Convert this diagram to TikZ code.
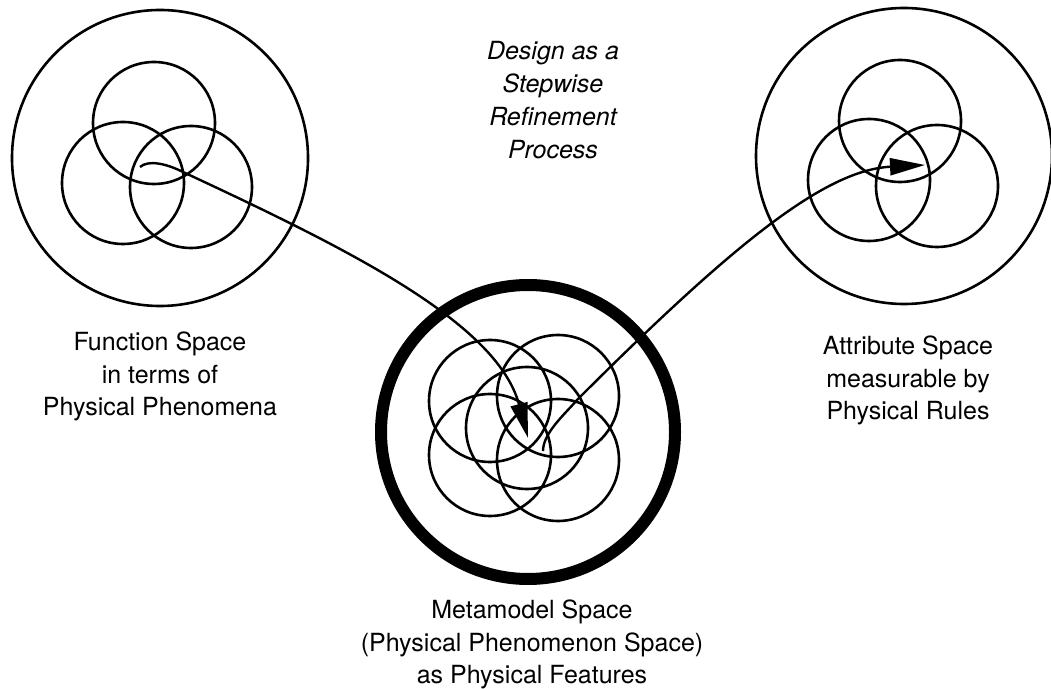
\documentclass[tikz,border=0pt]{standalone}
\usepackage{fontspec}
\setmainfont{TeX Gyre Heros}
\usetikzlibrary{arrows.meta,positioning}

\begin{document}
\begin{tikzpicture}[
  x=1pt,y=1pt,
  ring/.style={circle,draw,line width=2.6pt,inner sep=0pt,outer sep=0pt,minimum size=122pt},
  space/.style={circle,draw,line width=2.6pt,inner sep=0pt,outer sep=0pt,minimum size=296pt},
  lbl/.style={align=center,inner sep=0pt,font=\fontsize{25}{32.5}\selectfont},
  arr/.style={-{Triangle[length=35pt,width=17pt]},line width=2.4pt},
  node distance=27pt
]
\useasboundingbox (0,0) rectangle (1051,688);

% function space
\node[space] (fs) at (160,530) {};
\node[ring] (fs1) at (154,565) {};
\node[ring] (fs2) at (123,505) {};
\node[ring] (fs3) at (191,501) {};

% metamodel space
\node[space,line width=12pt,minimum size=294pt] (ms) at (528,256) {};
\node[ring] (ms1) at (490,287) {};
\node[ring] (ms2) at (558,292) {};
\node[ring] (ms3) at (527,260) {};
\node[ring] (ms4) at (490,233) {};
\node[ring] (ms5) at (558,228) {};

% attribute space
\node[space] (as) at (904,532) {};
\node[ring] (as1) at (900,567) {};
\node[ring] (as2) at (869,508) {};
\node[ring] (as3) at (937,502) {};

\node[lbl,below=26pt of fs] (fslbl) {Function Space\\in terms of\\Physical Phenomena};
\node[lbl,below=21pt of ms,xshift=4pt] (mslbl) {Metamodel Space\\(Physical Phenomenon Space)\\as Physical Features};
\node[lbl,below=32pt of as,xshift=4pt] (aslbl) {Attribute Space\\measurable by\\Physical Rules};
\node[lbl,font=\fontsize{25}{33}\selectfont\itshape,anchor=north] (design) at (553,647) {Design as a\\Stepwise\\Refinement\\Process};

\coordinate (fsstart) at (140,521);
\coordinate (mstip) at (528,250);
\coordinate (msstart) at (543,237);
\coordinate (astip) at (925,523);

\draw[arr] (fsstart) .. controls (148,528) and (165,525) .. (183,516)
  .. controls (346,440) and (497,366) .. (mstip);
\draw[arr] (msstart) .. controls (543,255) and (565,274) .. (577,288)
  .. controls (733,444) and (825,518) .. (astip);
\end{tikzpicture}
\end{document}
